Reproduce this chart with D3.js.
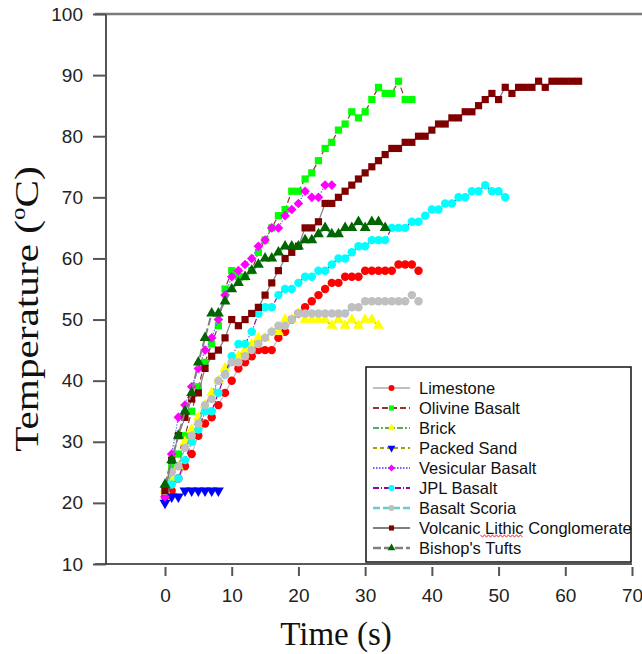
<!DOCTYPE html>
<html>
<head>
<meta charset="utf-8">
<script src="https://cdnjs.cloudflare.com/ajax/libs/d3/7.8.5/d3.min.js"></script>
<style>
body { margin: 0; background: #fff; }
svg { display: block; }
</style>
</head>
<body>
<svg></svg>
<script>
const width = 642;
const height = 654;

// temperature (°C), one reading per second starting at t = 0 s
const limestone = [21,22,24,26,28,31,33,34,36,38,40,42,43,44,45,45,45,47,48,50,51,52,53,54,55,56,56,57,57,57,58,58,58,58,58,59,59,59,58];
const olivineBasalt = [22,26,28,31,35,39,43,46,49,55,58,57,57,58,61,63,65,67,68,71,71,73,74,76,78,79,81,82,84,83,84,86,88,87,87,89,86,86];
const brick = [22,24,26,30,32,34,36,38,40,42,43,44,45,46,47,47,48,48,50,50,51,50,50,50,50,49,50,49,50,49,50,50,49];
const packedSand = [20,21,21,22,22,22,22,22,22];
const vesicularBasalt = [21,28,34,36,39,42,45,47,50,54,57,58,59,60,62,63,65,65,67,68,69,71,70,70,72,72];
const jplBasalt = [22,23,24,27,30,32,35,35,38,41,44,46,46,48,51,52,52,54,55,55,56,57,57,58,58,59,60,60,61,62,62,63,63,63,65,65,65,66,66,67,68,68,69,69,70,70,71,71,72,71,71,70];
const basaltScoria = [22,25,26,29,31,33,36,37,40,41,43,43,44,45,46,47,48,49,49,50,51,51,51,51,51,51,51,51,52,52,53,53,53,53,53,53,53,54,53];
const volcanicLithic = [22,27,31,34,37,38,42,44,45,47,50,49,50,51,52,54,56,58,60,61,62,65,65,66,69,69,70,71,72,73,74,75,76,77,78,78,79,79,80,80,81,82,82,83,83,84,84,85,86,87,86,88,87,88,88,88,89,88,89,89,89,89,89];
const bishopsTufts = [23,27,31,35,38,43,47,51,51,53,55,56,57,58,59,60,60,61,62,62,62,63,63,64,65,64,64,65,65,66,65,66,66,65];

const seriesNames = ["Limestone", "Olivine Basalt", "Brick", "Packed Sand", "Vesicular Basalt",
    "JPL Basalt", "Basalt Scoria", "Volcanic Lithic Conglomerate", "Bishop's Tufts"];
const seriesValues = [limestone, olivineBasalt, brick, packedSand, vesicularBasalt,
    jplBasalt, basaltScoria, volcanicLithic, bishopsTufts];

const xTicks = [0, 10, 20, 30, 40, 50, 60, 70];
const yTicks = [10, 20, 30, 40, 50, 60, 70, 80, 90, 100];

// look of every series (line + marker)
const styles = [
    {line: "#c0c0c0", dash: null,      lw: 1.2, fill: "#ff0000", shape: "circle"},
    {line: "#993333", dash: "6,3",     lw: 1.2, fill: "#00ff00", shape: "square"},
    {line: "#5fa85f", dash: "6,2,2,2", lw: 1.2, fill: "#ffff00", shape: "triangle"},
    {line: "#a3a300", dash: "4,3",     lw: 1.2, fill: "#0000ff", shape: "triDown"},
    {line: "#6666ff", dash: "1.5,1.5", lw: 1.2, fill: "#ff00ff", shape: "diamond"},
    {line: "#990099", dash: "6,2,1,2", lw: 1.2, fill: "#00ffff", shape: "circle"},
    {line: "#66cccc", dash: "7,3",     lw: 1.5, fill: "#c0c0c0", shape: "circle"},
    {line: "#808080", dash: null,      lw: 1.2, fill: "#800000", shape: "square"},
    {line: "#808080", dash: "8,3",     lw: 2,   fill: "#006600", shape: "triangle"}
];

let svg = d3.select("svg")
    .attr("width", width)
    .attr("height", height);

const scX = d3.scaleLinear().domain([0, 70]).range([165, 632]);
const scY = d3.scaleLinear().domain([10, 100]).range([564, 14]);
const axisLeftX = 106;

function symbolPath(shape, big) {
    const k = big ? 1 : 0.5;
    if (shape == "circle") return d3.symbol(d3.symbolCircle, 56 * k)();
    if (shape == "square") return d3.symbol(d3.symbolSquare, 52 * k)();
    if (shape == "diamond") return d3.symbol(d3.symbolSquare, 46 * k)();
    return d3.symbol(d3.symbolTriangle, 52 * k)();
}

function symbolRotate(shape) {
    if (shape == "triDown") return 180;
    if (shape == "diamond") return 45;
    return 0;
}

function drawAxes() {
    // frame lines
    svg.append("line")
        .attr("x1", 95).attr("x2", 642)
        .attr("y1", scY(100)).attr("y2", scY(100))
        .attr("stroke", "#7a7a7a").attr("stroke-width", 2.5);
    svg.append("line")
        .attr("x1", axisLeftX).attr("x2", axisLeftX)
        .attr("y1", scY(100)).attr("y2", scY(10))
        .attr("stroke", "#555").attr("stroke-width", 2);
    svg.append("line")
        .attr("x1", 95).attr("x2", 632)
        .attr("y1", scY(10)).attr("y2", scY(10))
        .attr("stroke", "#222").attr("stroke-width", 1.5);

    let gx = svg.append("g")
        .attr("transform", `translate(0, ${scY(10) + 3})`)
        .call(d3.axisBottom(scX).tickValues(xTicks).tickSize(9).tickPadding(13));
    gx.select(".domain").remove();

    let gy = svg.append("g")
        .attr("transform", `translate(${axisLeftX}, 0)`)
        .call(d3.axisLeft(scY).tickValues(yTicks).tickSize(13).tickPadding(10));
    gy.select(".domain").remove();

    svg.selectAll(".tick line").attr("stroke", "#555").attr("stroke-width", 2);
    svg.selectAll(".tick text")
        .style("font", "19px 'Liberation Sans', Arial, sans-serif")
        .attr("fill", "#222");

    // axis titles
    let yt = svg.append("text")
        .attr("transform", "translate(38, 309) rotate(-90) scale(1.25, 1)")
        .attr("text-anchor", "middle")
        .style("font", "33px 'Liberation Serif', 'Times New Roman', serif")
        .attr("fill", "#111");
    yt.append("tspan").text("Temperature (");
    yt.append("tspan").text("o").attr("font-size", "20px").attr("dy", -13);
    yt.append("tspan").text("C)").attr("dy", 13);

    svg.append("text")
        .attr("x", 336).attr("y", 645)
        .attr("text-anchor", "middle")
        .style("font", "33px 'Liberation Serif', 'Times New Roman', serif")
        .attr("fill", "#111")
        .text("Time (s)");
}

function drawSeries(vals, st) {
    const pts = vals.map((v, t) => [t, v]);
    let line = d3.line().x(d => scX(d[0])).y(d => scY(d[1]));
    svg.append("path")
        .datum(pts)
        .attr("d", line)
        .attr("fill", "none")
        .attr("stroke", st.line)
        .attr("stroke-width", st.lw)
        .attr("stroke-dasharray", st.dash);

    svg.append("g").selectAll("path")
        .data(pts)
        .enter()
        .append("path")
        .attr("d", symbolPath(st.shape, true))
        .attr("transform", d => `translate(${scX(d[0])}, ${scY(d[1])}) rotate(${symbolRotate(st.shape)})`)
        .attr("fill", st.fill);
}

function drawLegend() {
    const lx = 366, ly = 367, lw = 265, lh = 195;
    const legendFont = "16.5px 'Liberation Sans', Arial, sans-serif";
    svg.append("rect")
        .attr("x", lx).attr("y", ly)
        .attr("width", lw).attr("height", lh)
        .attr("fill", "#fff")
        .attr("stroke", "#111")
        .attr("stroke-width", 1.5);

    let rows = svg.selectAll(".lineLegend")
        .data(seriesNames)
        .enter()
        .append("g")
        .attr("class", "lineLegend")
        .attr("transform", (d, i) => `translate(0, ${388 + i * 20})`);

    rows.append("line")
        .attr("x1", 373).attr("x2", 410)
        .attr("stroke", (d, i) => styles[i].line)
        .attr("stroke-width", (d, i) => styles[i].lw > 1.4 ? 2.5 : 2)
        .attr("stroke-dasharray", (d, i) => styles[i].dash);

    rows.append("path")
        .attr("d", (d, i) => symbolPath(styles[i].shape, false))
        .attr("transform", (d, i) => `translate(391.5, 0) rotate(${symbolRotate(styles[i].shape)})`)
        .attr("fill", (d, i) => styles[i].fill);

    rows.append("text")
        .attr("x", 419)
        .attr("dy", "0.36em")
        .style("font", legendFont)
        .attr("fill", "#111")
        .text(d => d);

    // red spell-check squiggle under "Lithic"
    let tmp = svg.append("text").style("font", legendFont);
    const w0 = tmp.text("Volcanic ").node().getComputedTextLength();
    const w1 = tmp.text("Volcanic Lithic").node().getComputedTextLength();
    tmp.remove();
    const yy = 388 + 7 * 20 + 8;
    let zig = [];
    for (let x = 419 + w0, k = 0; x <= 419 + w1; x += 2, k++) {
        zig.push([x, yy + (k % 2 ? 1.2 : -1.2)]);
    }
    svg.append("path")
        .attr("d", d3.line()(zig))
        .attr("fill", "none")
        .attr("stroke", "#e02020")
        .attr("stroke-width", 0.9);
}

drawAxes();
seriesValues.forEach((vals, i) => drawSeries(vals, styles[i]));
drawLegend();
</script>
</body>
</html>
